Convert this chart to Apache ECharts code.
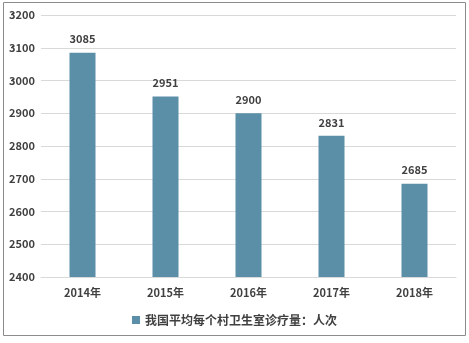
<!DOCTYPE html>
<html><head><meta charset="utf-8">
<script src="https://cdn.jsdelivr.net/npm/echarts@6/dist/echarts.min.js"></script>
<style>html,body{margin:0;padding:0;background:#fff}#c{width:469px;height:343px}</style>
</head><body><div id="c"></div>
<script>
const categories = ['2014年','2015年','2016年','2017年','2018年'];
const values = [3085, 2951, 2900, 2831, 2685];
const seriesName = '我国平均每个村卫生室诊疗量：人次';
const chart = echarts.init(document.getElementById('c'));
const font = '"Noto Sans CJK SC", "DejaVu Sans", sans-serif';
chart.setOption({
  animation: false,
  graphic: [{type:'rect', shape:{x:3.5,y:2.5,width:462,height:333}, style:{fill:'none', stroke:'#8c8c8c', lineWidth:1}}],
  grid: {left:41, right:13, top:15, bottom:66},
  legend: {bottom:12, left:'center', itemWidth:8, itemHeight:8, icon:'rect', textStyle:{fontFamily:font, fontSize:12, color:'#404040', fontWeight:'bold'}, data:[seriesName]},
  xAxis: {type:'category', data:categories, axisLine:{lineStyle:{color:'#d9d9d9'}}, axisTick:{show:false}, axisLabel:{fontFamily:font, fontSize:11, color:'#404040', margin:10, fontWeight:'bold'}},
  yAxis: {type:'value', min:2400, max:3200, interval:100, axisLine:{show:false}, axisTick:{show:false}, splitLine:{lineStyle:{color:'#d9d9d9'}}, axisLabel:{formatter: v => String(v), fontFamily:font, fontSize:11, color:'#404040', margin:6, fontWeight:'bold'}},
  series: [{name:seriesName, type:'bar', data:values, barWidth:26, itemStyle:{color:'#5b8fa7'}, label:{show:true, position:'top', distance:8, fontFamily:font, fontSize:11, color:'#404040', fontWeight:'bold'}}]
});
</script></body></html>
